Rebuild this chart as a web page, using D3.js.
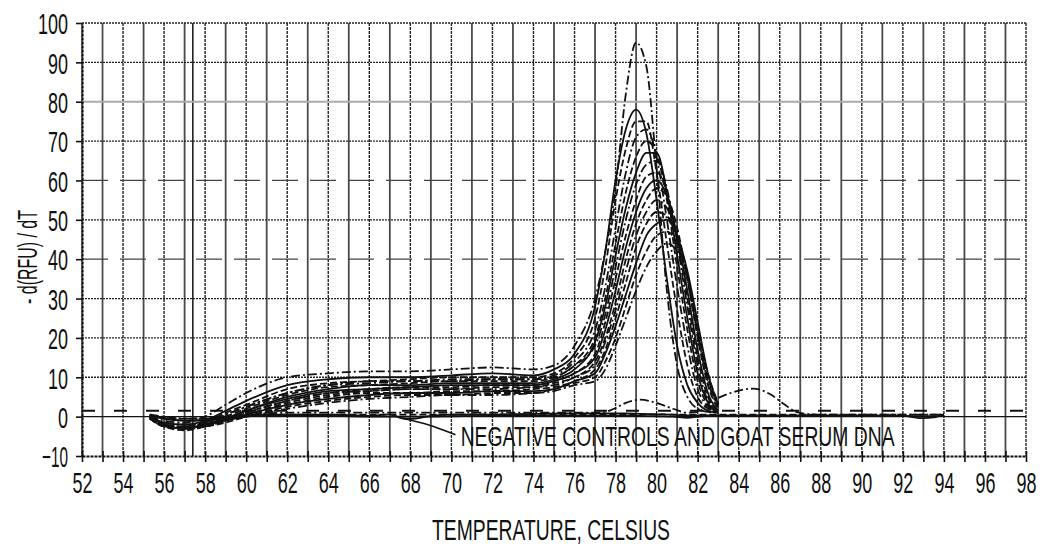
<!DOCTYPE html>
<html><head><meta charset="utf-8">
<script src="https://cdn.jsdelivr.net/npm/d3@7/dist/d3.min.js"></script>
<style>
html,body{margin:0;padding:0;background:#fff;}
svg{display:block;}
text{font-family:"Liberation Sans Narrow","Liberation Sans",Arial,sans-serif;fill:#111;}
</style></head>
<body>
<svg id="chart" width="1046" height="548"></svg>
<script>
// ---- data ----
const xTicks = d3.range(52, 99, 1);
const xLabels = d3.range(52, 99, 2);
const yTicks = [-10, 0, 10, 20, 30, 40, 50, 60, 70, 80, 90, 100];
const xTitle = "TEMPERATURE, CELSIUS";
const yTitle = "- d(RFU) / dT";
const noteText = "NEGATIVE CONTROLS AND GOAT SERUM DNA";
const threshold = 1.5;

const tPos = [55.3,56,57,58,59,60,62,64,66,68,70,72,74,75,76,77,77.5,78,78.5,79,79.5,80,80.5,81,81.5,82,82.5,83];
const pos01 = [0.5,-1,-1.5,0,3,6,10,11,11.5,11.5,12,12.5,12,13,18,30,42,58,82,95,89,63,32,13,5,2,1.2,1];
const pos02 = [0.3,-1.5,-2,-1,1.5,4,8,9.5,10,10,10.5,11,10.5,12,16,28,42,60,73,78,72,55,35,18,8,3.5,1.5,1];
const pos03 = [0,-2,-2.5,-1.5,1,3,7,8.5,9,9.5,10,10,10,11,15,25,38,55,68,75,75,62,44,27,13,5,2,1];
const pos04 = [0.2,-1.5,-2,-1.5,0.5,2.5,6,8,9,9,9.5,9.5,9.5,10.5,14,22,33,48,62,71,73,66,50,33,18,7,2.5,1];
const pos05 = [0,-2,-3,-2,0,2,5.5,7.5,8,8.5,9,9,9,10,13,20,30,44,57,66,70,67,55,38,22,9,3,1];
const pos06 = [-0.5,-2.5,-3,-2,-0.5,1.5,5,7,8,8,8.5,8.5,8.5,9.5,12,19,28,41,53,62,67,67,57,41,25,11,3.5,1];
const pos07 = [0,-2,-2.5,-1.5,0.5,2.5,6,8,8.5,9,9,9.5,9.5,10,13,18,26,38,50,59,64,65,58,44,28,13,4,1.2];
const pos08 = [-0.5,-2.5,-3,-2.5,-1,1,4,6,7,7.5,7.5,8,8,9,11,16,24,35,46,55,61,62,57,45,30,15,5,1.5];
const pos09 = [0,-2,-3,-2,-0.5,1.5,4.5,6.5,7,7.5,8,8,8,9,11,15,22,32,43,52,58,60,56,46,32,17,6,1.5];
const pos10 = [-0.3,-2.5,-3,-2.5,-1,0.5,3.5,5.5,6.5,7,7,7.5,7.5,8.5,10,14,20,29,40,49,55,58,56,48,35,20,8,2];
const pos11 = [0,-2,-3,-2,-0.5,1,4,6,6.5,7,7,7,7.5,8,10,13,19,27,37,46,52,55,53,46,35,21,9,2.5];
const pos12 = [-0.5,-2.5,-3.5,-2.5,-1,0.5,3,5,6,6,6.5,6.5,7,7.5,9,12,17,25,34,43,49,52,51,45,36,22,10,3];
const pos13 = [0,-2,-3,-2,-1,0.5,3,4.5,5.5,6,6,6.5,6.5,7,9,11,16,23,31,39,46,49,50,46,37,24,11,3];
const pos14 = [-0.3,-2.5,-3,-2.5,-1.5,0,2.5,4,5,5.5,5.5,6,6,7,8.5,10,14,20,28,36,42,46,47,44,36,23,11,3.5];
const pos15 = [0,-2,-3,-2.5,-1,0,2,3.5,4.5,5,5.5,5.5,6,6.5,8,9,12,18,25,32,38,42,44,42,35,21,9,3];

const tNeg = [55.3,56,57,58,59,60,61,62,64,66,67,67.5,68,69,70,72,74,76,77,77.5,78,78.5,79.2,80,80.8,81.5,82,82.6,83.5,84.7,85.5,86.2,86.8,87.5,88,90,92,93,93.5,94];
const neg1 = [0.5,-0.5,-1,-1,-0.5,0,0.5,0.5,0.5,0.2,0.6,-0.3,-0.6,0.2,0.5,0.5,0.7,0.8,0.8,0.8,0.8,0.8,0.7,0.6,0.5,0.3,0.3,0.3,0.3,0.3,0.3,0.3,0.3,0.3,0.3,0.3,0.2,-0.4,-0.2,0.5];
const neg2 = [0.5,0,-0.5,-0.5,0,0.5,0.8,1,1,1,1,1,1,1,1,1,1,1,1,1.2,2.2,3.5,4.3,3.5,2,1,1.2,3.6,5.8,7.1,5.8,3.2,1.2,0.6,0.5,0.5,0.5,0.5,0.5,0.5];
const neg3 = [0.3,-0.3,-0.5,-0.3,0,0.3,0.5,0.5,0.5,0.5,0.5,0.5,0.5,0.5,0.5,0.6,0.6,0.6,0.6,0.6,0.6,0.6,0.6,0.6,0.5,0.5,0.5,0.5,0.5,0.5,0.5,0.5,0.5,0.5,0.5,0.5,0.5,0.5,0.5,0.5];
const neg4 = [0.2,-0.5,-1,-0.8,-0.3,0.2,0.3,0.3,0.2,0,0,0,0,0,0.1,0.2,0.2,0.2,0.2,0.2,0.2,0.2,0.2,0.1,0,-0.3,0,0.2,0.2,0.2,0.2,0.2,0.2,0.2,0.2,0.2,0.2,0.1,0.1,0.2];

// annotation anchor (data coordinates)
const noteFrom = [67.6, -0.4];
const noteTo = [70.2, -4.6];
const noteTextAt = [70.45, -7.4];

// ---- drawing ----
const svg = d3.select("#chart");
const M = {l: 82, t: 23, r: 1026, b: 456};
const x = d3.scaleLinear().domain([52, 98]).range([M.l, M.r]);
const y = d3.scaleLinear().domain([-10, 100]).range([M.b, M.t]);

const dashDot = "9,3,2,3";
const dashed = "7,3";

// vertical grid
const g = svg.append("g");
g.selectAll("line.v").data(xTicks).join("line")
  .attr("x1", d => x(d)).attr("x2", d => x(d))
  .attr("y1", y(100)).attr("y2", y(-10))
  .attr("stroke", d => d % 2 ? "#4a4a4a" : "#222")
  .attr("stroke-width", d => d % 2 ? 1.8 : 1.4)
  .attr("stroke-dasharray", d => d % 2 ? null : "3,1");
g.append("line").attr("x1", x(57.4)).attr("x2", x(57.4)).attr("y1", y(100)).attr("y2", y(-10))
  .attr("stroke", "#222").attr("stroke-width", 1.6);
// horizontal grid
g.selectAll("line.h").data(yTicks.filter(v => v > 0)).join("line")
  .attr("x1", x(52)).attr("x2", x(98))
  .attr("y1", d => y(d)).attr("y2", d => y(d))
  .attr("stroke", d => d === 80 ? "#aaa" : (d === 40 || d === 60 ? "#444" : "#222"))
  .attr("stroke-width", d => d === 80 ? 2 : 1.3)
  .attr("stroke-dasharray", d => (d === 40 || d === 60) ? "26,12" : (d === 80 ? null : "2,1"));
// zero line
g.append("line").attr("x1", x(52)).attr("x2", x(98)).attr("y1", y(0)).attr("y2", y(0))
  .attr("stroke", "#111").attr("stroke-width", 1.4);

// axes
const FONT = "'Liberation Sans Narrow','Liberation Sans',Arial,sans-serif";
const xAxis = d3.axisBottom(x).tickValues(xTicks)
  .tickFormat(d => xLabels.includes(d) ? d : "").tickSizeInner(6).tickSizeOuter(0).tickPadding(10);
const gx = svg.append("g").attr("transform", `translate(0,${y(-10)})`).call(xAxis);
gx.select(".domain").attr("stroke", "#111").attr("stroke-width", 2.2).attr("stroke-dasharray", "3,1");
gx.selectAll(".tick line").attr("y1", -5).attr("stroke", "#111").attr("stroke-width", 1.6);
gx.selectAll(".tick text").attr("font-size", 30).attr("dy", "0.72em")
  .attr("font-family", FONT).attr("fill", "#111")
  .attr("textLength", 20).attr("lengthAdjust", "spacingAndGlyphs")
  .attr("y", 15);

const yAxis = d3.axisLeft(y).tickValues(yTicks).tickSizeInner(6).tickSizeOuter(0).tickPadding(9);
const gy = svg.append("g").attr("transform", `translate(${x(52)},0)`).call(yAxis);
gy.select(".domain").attr("stroke", "#111").attr("stroke-width", 2.2).attr("stroke-dasharray", "3,1");
gy.selectAll(".tick line").attr("stroke", "#111").attr("stroke-width", 1.6);
gy.selectAll(".tick text").attr("font-size", 30)
  .attr("font-family", FONT).attr("fill", "#111").attr("x", -14).attr("dy", "0.36em")
  .attr("textLength", d => String(d).length * 10 - (d < 0 ? 4 : 0)).attr("lengthAdjust", "spacingAndGlyphs");

// threshold dashed line
svg.append("line").attr("x1", x(52)).attr("x2", x(98)).attr("y1", y(threshold)).attr("y2", y(threshold))
  .attr("stroke", "#111").attr("stroke-width", 2).attr("stroke-dasharray", "13,19");

// curves
const line = d3.line().curve(d3.curveMonotoneX).x(d => x(d[0])).y(d => y(d[1]));
const posSeries = [pos01,pos02,pos03,pos04,pos05,pos06,pos07,pos08,pos09,pos10,pos11,pos12,pos13,pos14,pos15];
const posStyle = [dashDot,"none",dashed,dashDot,dashed,"none",dashDot,dashed,"none",dashed,dashDot,dashed,"none",dashed,dashDot];
const cg = svg.append("g").attr("fill", "none").attr("stroke", "#111");
posSeries.forEach((s, i) => {
  cg.append("path").datum(tPos.map((t, j) => [t, s[j]]))
    .attr("d", line).attr("stroke-width", 1.8)
    .attr("stroke-dasharray", posStyle[i] === "none" ? null : posStyle[i]);
});
const negSeries = [neg1, neg2, neg3, neg4];
const negStyle = ["none", dashDot, dashed, "none"];
negSeries.forEach((s, i) => {
  cg.append("path").datum(tNeg.map((t, j) => [t, s[j]]))
    .attr("d", line).attr("stroke-width", 1.8)
    .attr("stroke-dasharray", negStyle[i] === "none" ? null : negStyle[i]);
});

// annotation
svg.append("path")
  .attr("d", d3.line().curve(d3.curveBasis)([[x(noteFrom[0]), y(noteFrom[1])],
      [x((noteFrom[0] + noteTo[0]) / 2), y(noteFrom[1] - 1.5)], [x(noteTo[0]), y(noteTo[1])]]))
  .attr("fill", "none").attr("stroke", "#111").attr("stroke-width", 1.6);
svg.append("text").attr("x", x(noteTextAt[0])).attr("y", y(noteTextAt[1]))
  .attr("font-size", 28).attr("textLength", 434).attr("lengthAdjust", "spacingAndGlyphs")
  .text(noteText);

// titles
svg.append("text").attr("x", 551).attr("y", 540).attr("text-anchor", "middle")
  .attr("font-size", 29).attr("textLength", 238).attr("lengthAdjust", "spacingAndGlyphs")
  .text(xTitle);
svg.append("text").attr("transform", "translate(37,257) rotate(-90)").attr("text-anchor", "middle")
  .attr("font-size", 27).attr("textLength", 94).attr("lengthAdjust", "spacingAndGlyphs")
  .text(yTitle);
</script>
</body></html>
